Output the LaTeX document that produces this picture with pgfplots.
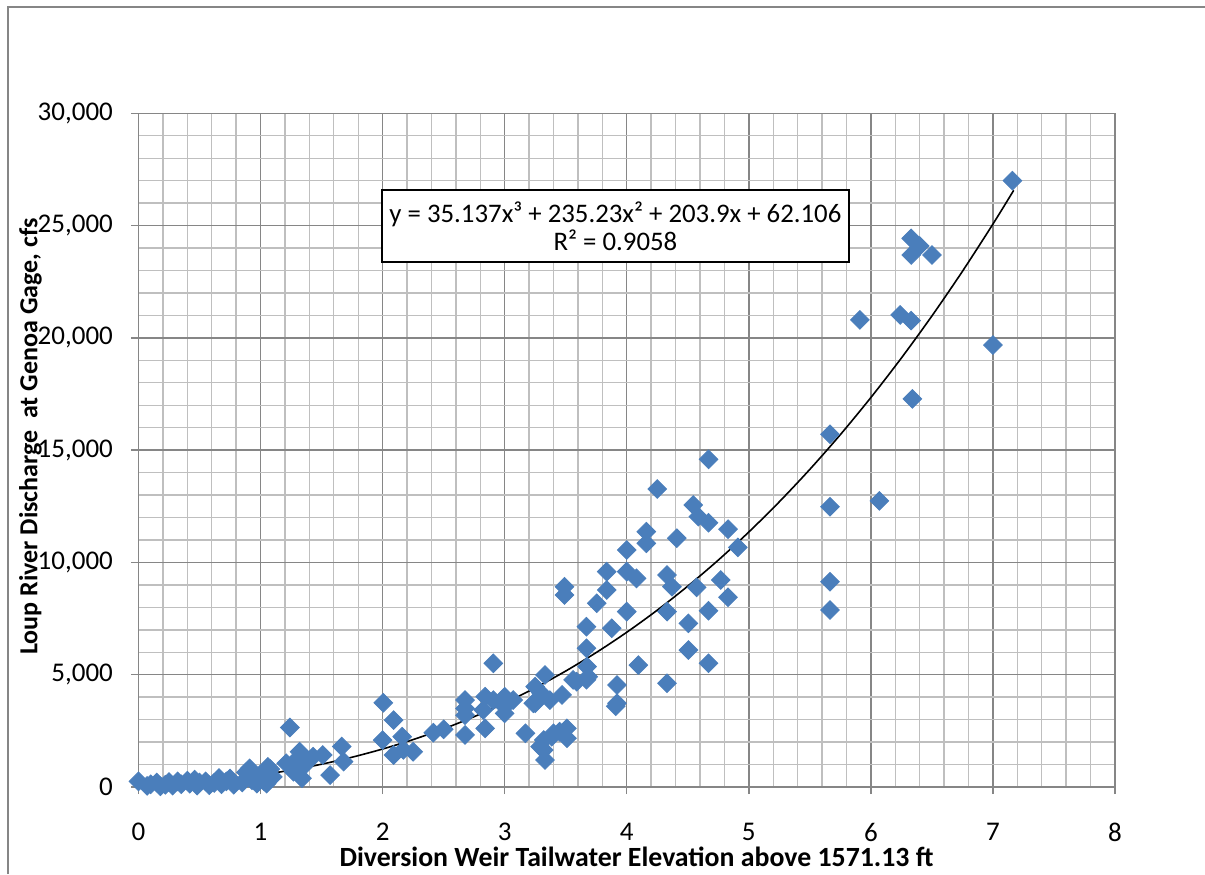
\documentclass[border=0pt]{standalone}
\usepackage{pgfplots}
\pgfplotsset{compat=1.18}
\usepackage{fontspec}
\setmainfont{Carlito}
\definecolor{majgrid}{RGB}{134,134,134}
\definecolor{mingrid}{RGB}{191,191,191}
\definecolor{ptblue}{RGB}{74,126,187}
\begin{document}
\begin{tikzpicture}
\useasboundingbox (0,0) rectangle (602.5pt,437pt);
\begin{axis}[
  at={(69.25pt,43.5pt)}, anchor=south west,
  scale only axis, width=488.25pt, height=336.85pt,
  xmin=0, xmax=8, ymin=0, ymax=30000,
  xtick={0,1,...,8}, ytick={0,5000,...,30000},
  minor x tick num=4, minor y tick num=4,
  grid=both,
  major grid style={line width=0.7pt, color=majgrid},
  minor grid style={line width=0.7pt, color=mingrid},
  axis line style={line width=0.7pt, color=majgrid},
  tick pos=left, tick align=outside,
  major tick length=3.5pt, minor tick length=0pt,
  tick style={line width=0.7pt, color=majgrid},
  scaled y ticks=false,
  /pgf/number format/assume math mode=true,
  /pgf/number format/fixed,
  /pgf/number format/1000 sep={,},
  ticklabel style={font=\fontsize{13.5}{15}\selectfont},
  yticklabel style={anchor=east, inner sep=0pt, xshift=-9.1pt},
  xticklabel style={anchor=center, inner sep=0pt, yshift=-19pt},
  xlabel={Diversion Weir Tailwater Elevation above 1571.13 ft},
  ylabel={Loup River Discharge\hspace{0.45em}at Genoa Gage, cfs},
  xlabel style={at={(axis description cs:0.51,-0.1039)}, anchor=center, font=\fontsize{13.9}{15}\selectfont\bfseries},
  ylabel style={at={(axis description cs:-0.1106,0.520)}, anchor=center, font=\fontsize{13}{15}\selectfont\bfseries},
  clip=false,
]
\addplot[only marks, mark=square*, mark size=3.3pt, mark options={rotate=45, fill=ptblue, draw=ptblue}] coordinates {
(0.00,250) (0.07,50) (0.10,120) (0.15,200) (0.18,30) (0.22,100) (0.25,220) (0.28,60)
(0.32,250) (0.35,120) (0.40,280) (0.42,150) (0.46,330) (0.48,60) (0.50,200) (0.55,250)
(0.58,80) (0.62,180) (0.66,400) (0.68,120) (0.72,250) (0.75,380) (0.78,100) (0.85,200)
(0.88,650) (0.91,830) (0.93,300) (0.97,150) (1.00,550) (1.03,250) (1.06,900) (1.08,800)
(1.10,450) (1.05,150)
(1.24,2650) (1.21,1055) (1.27,680) (1.32,1570) (1.34,390) (1.35,900) (1.38,1200) (1.43,1350)
(1.51,1425) (1.57,530) (1.665,1800) (1.68,1130) (1.30,1250)
(2.006,3750) (2.09,2980) (2.00,2090) (2.16,2240) (2.09,1425) (2.25,1570) (2.17,1650)
(2.415,2420) (2.50,2570)
(2.675,3870) (2.675,3500) (2.675,3200) (2.675,2320) (2.84,4020) (2.907,5510) (2.825,3430)
(2.84,2610) (2.907,3870) (3.00,4020) (3.00,3280) (3.07,3870) (3.00,3580) (3.17,2390)
(3.25,4470) (3.33,4990) (3.235,3730) (3.30,4170) (3.37,3870) (3.47,4100) (3.56,4770)
(3.32,2090) (3.385,2240) (3.45,2460) (3.51,2610) (3.32,1650) (3.33,1200) (3.51,2170)
(3.29,1800) (3.40,2390) (3.25,3730) (3.59,4690) (3.675,5360) (3.685,4910) (3.67,4780)
(3.49,8920) (3.49,8550) (3.67,7140) (3.67,6180) (3.754,8180) (3.836,8770) (3.836,9590)
(3.877,7070) (3.92,4540) (3.92,3730) (3.91,3600)
(4.00,10550) (4.00,9590) (4.00,7810) (4.08,9290) (4.095,5430) (4.16,11370) (4.16,10850)
(4.25,13270) (4.33,9440) (4.33,7810) (4.33,4620) (4.37,8920) (4.41,11080) (4.505,7290)
(4.505,6100) (4.545,12560) (4.586,12040) (4.573,8890) (4.67,14590) (4.67,11770) (4.67,7850)
(4.67,5510) (4.77,9220) (4.83,11480) (4.83,8450) (4.91,10670)
(5.665,15710) (5.665,12480) (5.665,9140) (5.665,7880) (5.91,20800) (6.07,12740) (6.24,21020)
(6.33,20770) (6.33,24430) (6.40,24090) (6.33,23690) (6.50,23690) (6.34,17280) (7.00,19680)
(7.16,27000)
};
\addplot[black, line width=0.8pt, smooth, no marks] coordinates {
(0,62.1) (0.25,128.3) (0.5,227.3) (0.75,362.2) (1,536.4) (1.25,753.2) (1.5,1015.8)
(1.75,1327.6) (2,1691.9) (2.25,2112.0) (2.5,2591.1) (2.75,3132.5) (3,3739.6) (3.25,4415.6)
(3.5,5163.9) (3.75,5987.6) (4,6890.2) (4.25,7874.8) (4.5,8945.0) (4.75,10103.7) (5,11354.5)
(5.25,12700.6) (5.5,14145.2) (5.75,15691.7) (6,17343.4) (6.25,19103.5) (6.5,20975.5)
(6.75,22963.2) (7,25067.7) (7.17,26568.6)
};
\node[draw=black, line width=1pt, fill=white, align=center, minimum width=233.6pt, minimum height=36pt,
  inner sep=2pt, font=\fontsize{13.4}{14}\selectfont]
  at (axis description cs:0.4884,0.8327) {y = 35.137x³ + 235.23x² + 203.9x + 62.106\\R² = 0.9058};
\end{axis}
\draw[color=majgrid, line width=0.75pt] (4pt,0) -- (4pt,433.5pt) -- (602.5pt,433.5pt);
\end{tikzpicture}
\end{document}
